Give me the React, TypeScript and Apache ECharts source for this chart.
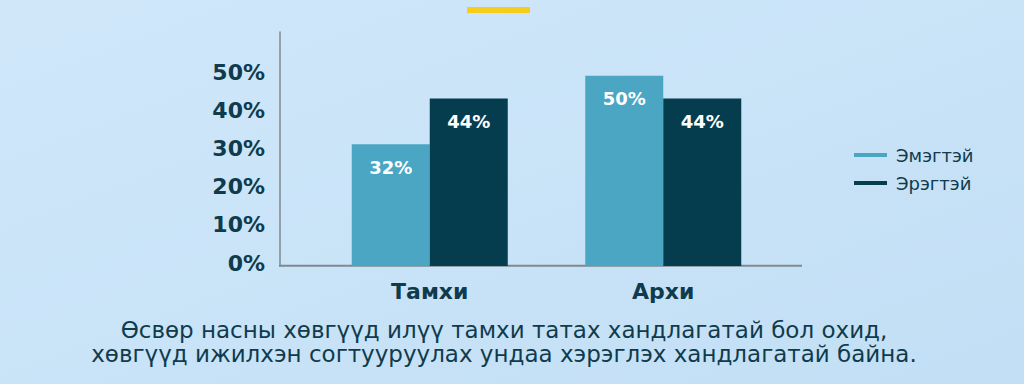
import React, { useEffect, useRef } from "react";
import * as echarts from "echarts";

const categories = ["Тамхи", "Архи"];
const seriesNames = ["Эмэгтэй", "Эрэгтэй"];
const femaleValues = [32, 50];
const maleValues = [44, 44];
const yTicks = [0, 10, 20, 30, 40, 50];
const captionLines = [
  "Өсвөр насны хөвгүүд илүү тамхи татах хандлагатай бол охид,",
  "хөвгүүд ижилхэн согтууруулах ундаа хэрэглэх хандлагатай байна.",
];

const DARK = "#0f3b4c";
const FEMALE = "#4aa6c2";
const MALE = "#053d4f";
const AXIS = "#7d8a93";

export default function App() {
  const ref = useRef<HTMLDivElement>(null);
  useEffect(() => {
    document.body.style.margin = "0";
    const chart = echarts.init(ref.current!, null, { renderer: "svg" });
    const barLabel = {
      show: true,
      position: "insideTop",
      distance: 14,
      color: "#ffffff",
      fontFamily: "DejaVu Sans",
      fontWeight: "bold",
      fontSize: 18,
      formatter: (p: any) => `${p.value}%`,
    };
    chart.setOption({
      animation: false,
      backgroundColor: {
        type: "linear",
        x: 0,
        y: 0,
        x2: 1,
        y2: 1,
        colorStops: [
          { offset: 0, color: "#d0e7fa" },
          { offset: 1, color: "#c2dff5" },
        ],
      },
      grid: { left: 313, right: 244, top: 32, bottom: 118 },
      legend: {
        orient: "vertical",
        left: 849,
        top: 141,
        icon: "rect",
        itemWidth: 33,
        itemHeight: 4,
        itemGap: 10,
        data: seriesNames,
        textStyle: {
          color: DARK,
          fontFamily: "DejaVu Sans",
          fontSize: 18,
          lineHeight: 18,
          padding: [0, 0, 0, 4],
        },
      },
      xAxis: {
        type: "category",
        data: categories,
        axisLine: { show: false },
        axisTick: { show: false },
        axisLabel: {
          margin: 14,
          color: DARK,
          fontFamily: "DejaVu Sans",
          fontWeight: "bold",
          fontSize: 22,
        },
      },
      yAxis: {
        type: "value",
        min: 0,
        max: 61.5,
        interval: 10,
        offset: 33,
        splitLine: { show: false },
        axisTick: { show: false },
        axisLine: { show: true, lineStyle: { color: AXIS, width: 1.5 } },
        axisLabel: {
          margin: 15,
          color: DARK,
          fontFamily: "DejaVu Sans",
          fontWeight: "bold",
          fontSize: 22,
          verticalAlign: "bottom",
          lineHeight: 6,
          formatter: (v: number) => (yTicks.includes(v) ? `${v}%` : ""),
        },
      },
      series: [
        {
          name: seriesNames[0],
          type: "bar",
          data: femaleValues,
          barWidth: 78,
          barGap: "0%",
          itemStyle: { color: FEMALE },
          label: barLabel,
        },
        {
          name: seriesNames[1],
          type: "bar",
          data: maleValues,
          barWidth: 78,
          barGap: "0%",
          itemStyle: { color: MALE },
          label: barLabel,
        },
      ],
      graphic: [
        {
          type: "rect",
          shape: { x: 467, y: 7, width: 63, height: 6 },
          style: { fill: "#f5cd1a" },
        },
        {
          type: "line",
          shape: { x1: 279, y1: 265.7, x2: 802, y2: 265.7 },
          style: { stroke: AXIS, lineWidth: 2 },
        },
        {
          type: "text",
          x: 504,
          y: 342,
          style: {
            text: captionLines.join("\n"),
            fill: DARK,
            font: '23px "DejaVu Sans"',
            lineHeight: 24,
            textAlign: "center",
            textVerticalAlign: "middle",
          },
        },
      ],
    });
    return () => chart.dispose();
  }, []);
  return (
    <div
      ref={ref}
      style={{ position: "absolute", left: 0, top: 0, width: 1024, height: 384 }}
    />
  );
}
